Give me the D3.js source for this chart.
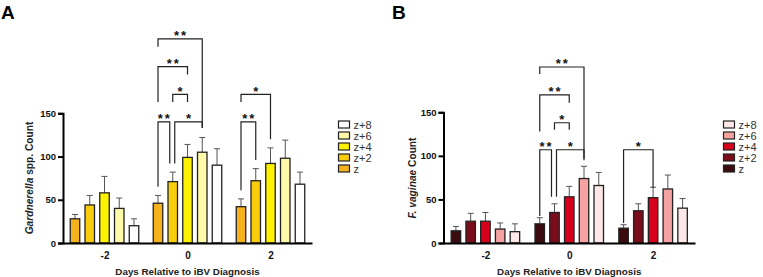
<!DOCTYPE html>
<html>
<head>
<meta charset="utf-8">
<script src="https://cdn.jsdelivr.net/npm/d3@7"></script>
<style>
  body { margin: 0; background: #fff; }
  text { font-family: "Liberation Sans", Arial, sans-serif; }
</style>
</head>
<body>
<svg id="chart" width="763" height="277"></svg>
<script>
// data
var days = [-2, 0, 2];
var seriesNames = ['z', 'z+2', 'z+4', 'z+6', 'z+8'];

// Gardnerella: mean and top of error bar, one array per series (days -2, 0, 2)
var gardMean = [[28, 46, 42], [44, 71, 72], [58, 99, 92], [40, 105, 98], [20, 90, 68]];
var gardErr  = [[33, 55, 51], [55, 82, 86], [77, 114, 110], [52, 122, 119], [28, 109, 82]];

// F. vaginae
var fvagMean = [[14, 22, 17], [25, 35, 37], [25, 53, 52], [16, 74, 62], [13, 66, 40]];
var fvagErr  = [[19, 29, 21], [34, 45, 45], [35, 65, 64], [23, 88, 78], [22, 81, 51]];

var gardColors = ['#f6b21c', '#f9cd0b', '#fff200', '#fffaa9', '#ffffff'];
var fvagColors = ['#3c0b10', '#7b0d1b', '#d6001c', '#f6a2a3', '#fde7e7'];

// brackets: day, from series, to series, level, left leg end, right leg end, label (y units)
var gardBrackets = [
  [0, 0, 3, 236, 227, 133, '**'],
  [0, 0, 2, 204, 163, 195, '**'],
  [0, 1, 2, 172, 163, 163, '*'],
  [0, 0, 1, 140, 65, 92, '**'],
  [0, 1, 3, 140, 92, 133, '*'],
  [2, 0, 2, 172, 163, 120, '*'],
  [2, 0, 1, 140, 61, 96, '**']
];
var fvagBrackets = [
  [0, 0, 3, 202, 194, 97, '**'],
  [0, 0, 2, 170, 128, 161, '**'],
  [0, 1, 2, 138, 130, 130, '*'],
  [0, 0, 1, 107, 31, 53, '**'],
  [0, 1, 3, 107, 53, 95, '*'],
  [2, 0, 2, 107, 23, 63, '*']
];

var svg = d3.select('#chart');

function drawPanel(p) {
  var g = svg.append('g');
  var x = d3.scaleLinear().domain([-3, 3]).range([p.x0, p.x1]);
  var y = d3.scaleLinear().domain([0, 150]).range([243, p.yTop]);
  var off = d3.scalePoint().domain(d3.range(5)).range([-29.5, 29.5]);
  var bw = 9.5;

  // panel letter
  g.append('text').text(p.letter)
    .attr('x', p.letterX).attr('y', 19)
    .attr('font-size', '19px').attr('font-weight', 'bold');

  // bars
  for (var s = 0; s < 5; s++) {
    var rows = days.map((d, i) => ({ day: d, v: p.mean[s][i], e: p.err[s][i] }));
    var sg = g.append('g');
    sg.selectAll('line.err').data(rows).enter().append('line')
      .attr('x1', d => x(d.day) + off(s)).attr('x2', d => x(d.day) + off(s))
      .attr('y1', d => y(d.v)).attr('y2', d => y(d.e))
      .attr('stroke', '#555').attr('stroke-width', 1);
    sg.selectAll('line.cap').data(rows).enter().append('line')
      .attr('x1', d => x(d.day) + off(s) - 3).attr('x2', d => x(d.day) + off(s) + 3)
      .attr('y1', d => y(d.e)).attr('y2', d => y(d.e))
      .attr('stroke', '#555').attr('stroke-width', 1);
    sg.selectAll('rect').data(rows).enter().append('rect')
      .attr('x', d => x(d.day) + off(s) - bw / 2)
      .attr('y', d => y(d.v))
      .attr('width', bw)
      .attr('height', d => y(0) - y(d.v))
      .attr('fill', p.colors[s])
      .attr('stroke', '#222').attr('stroke-width', 1.3);
  }

  // axes
  var yAxis = g.append('g').attr('transform', 'translate(' + p.x0 + ',0)')
    .call(d3.axisLeft(y).tickValues([0, 50, 100, 150]).tickSize(5).tickPadding(2));
  yAxis.select('.domain').attr('stroke', '#000').attr('stroke-width', 2);
  yAxis.selectAll('.tick line').attr('stroke', '#000').attr('stroke-width', 2);
  yAxis.selectAll('.tick text').attr('font-size', '9.5px').attr('font-weight', 'bold')
    .attr('fill', '#111').style('font-family', '"Liberation Sans", Arial, sans-serif');

  var xAxis = g.append('g').attr('transform', 'translate(0,243)')
    .call(d3.axisBottom(x).tickValues(days).tickFormat(d => String(d))
      .tickSize(0).tickPadding(9).tickSizeOuter(0));
  xAxis.select('.domain').attr('stroke', '#000').attr('stroke-width', 2);
  xAxis.selectAll('.tick text').attr('font-size', '10px').attr('font-weight', 'bold')
    .attr('fill', '#111').style('font-family', '"Liberation Sans", Arial, sans-serif');

  g.append('text').text('Days Relative to iBV Diagnosis')
    .attr('x', x(0)).attr('y', 275)
    .attr('text-anchor', 'middle')
    .attr('font-size', '9.8px').attr('font-weight', 'bold').attr('fill', '#222');

  // y label with italic part
  var yl = g.append('text')
    .attr('transform', 'translate(' + p.yLabelX + ',178) rotate(-90)')
    .attr('text-anchor', 'middle')
    .attr('font-size', '10.2px').attr('font-weight', 'bold').attr('fill', '#222');
  yl.append('tspan').text(p.yItalic).attr('font-style', 'italic');
  yl.append('tspan').text(p.yRest);

  // significance brackets
  p.brackets.forEach(function(b) {
    var xl = x(b[0]) + off(b[1]);
    var xr = x(b[0]) + off(b[2]);
    p.brackets.forEach(function(o) {
      if (o === b || o[0] !== b[0] || o[3] !== b[3]) return;
      if (o[1] === b[2]) xr -= 3;
      if (o[2] === b[1]) xl += 2;
    });
    var yl0 = y(b[3]);
    g.append('path')
      .attr('d', 'M' + xl + ',' + y(b[4]) + 'V' + yl0 + 'H' + xr + 'V' + y(b[5]))
      .attr('fill', 'none').attr('stroke', '#222').attr('stroke-width', 1.2);
    g.append('text').text(b[6])
      .attr('x', (xl + xr) / 2 + 1).attr('y', yl0 + 1.5)
      .attr('text-anchor', 'middle')
      .attr('font-size', '13px').attr('font-weight', 'bold')
      .attr('letter-spacing', '2px').attr('fill', '#111');
  });

  // legend (top row is z+8)
  var order = d3.range(4, -1, -1);
  var lg = g.append('g');
  lg.selectAll('rect').data(order).enter().append('rect')
    .attr('x', p.legX).attr('y', (d, i) => 121 + i * 11)
    .attr('width', 11).attr('height', 7)
    .attr('fill', d => p.colors[d])
    .attr('stroke', '#222').attr('stroke-width', 1.2);
  lg.selectAll('text').data(order).enter().append('text')
    .text(d => seriesNames[d])
    .attr('x', p.legX + 15).attr('y', (d, i) => 128.5 + i * 11)
    .attr('font-size', '11px').attr('fill', '#333');
}

drawPanel({
  letter: 'A', letterX: 1, x0: 63, x1: 312, yTop: 113.3,
  mean: gardMean, err: gardErr, colors: gardColors, brackets: gardBrackets,
  yItalic: 'Gardnerella', yRest: ' spp. Count', yLabelX: 33, legX: 338.5
});
drawPanel({
  letter: 'B', letterX: 392, x0: 443.5, x1: 695, yTop: 112.3,
  mean: fvagMean, err: fvagErr, colors: fvagColors, brackets: fvagBrackets,
  yItalic: 'F. vaginae', yRest: ' Count', yLabelX: 416, legX: 723.5
});
</script>
</body>
</html>
